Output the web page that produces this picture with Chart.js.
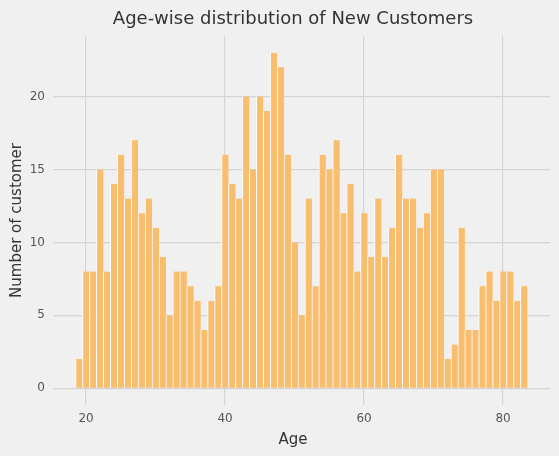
<!DOCTYPE html>
<html>
<head>
<meta charset="utf-8">
<script src="https://cdn.jsdelivr.net/npm/chart.js@4.4.1/dist/chart.umd.min.js"></script>
<style>
  html, body { margin: 0; padding: 0; background: #f0f0f0; }
  #wrap { width: 559px; height: 456px; }
</style>
</head>
<body>
<div id="wrap"><canvas id="ageChart"></canvas></div>
<script>
//DATA:
const chartTitle = 'Age-wise distribution of New Customers';
const xLabel = 'Age';
const yLabel = 'Number of customer';
const ages = [19, 20, 21, 22, 23, 24, 25, 26, 27, 28, 29, 30, 31, 32, 33, 34, 35, 36, 37, 38, 39,
  40, 41, 42, 43, 44, 45, 46, 47, 48, 49, 50, 51, 52, 53, 54, 55, 56, 57, 58, 59,
  60, 61, 62, 63, 64, 65, 66, 67, 68, 69, 70, 71, 72, 73, 74, 75, 76, 77, 78, 79,
  80, 81, 82, 83];
const customerCounts = [2, 8, 8, 15, 8, 14, 16, 13, 17, 12, 13, 11, 9, 5, 8, 8, 7, 6, 4, 6, 7,
  16, 14, 13, 20, 15, 20, 19, 23, 22, 16, 10, 5, 13, 7, 16, 15, 17, 12, 14, 8,
  12, 9, 13, 9, 11, 16, 13, 13, 11, 12, 15, 15, 2, 3, 11, 4, 4, 7, 8, 6,
  8, 8, 6, 7];
const xTicks = [20, 40, 60, 80];
const yTicks = [0, 5, 10, 15, 20];

//COLOURS AND FONTS:
const backgroundColour = '#f0f0f0';
const barColour = '#f9bd6e';
const gridColour = '#d4d4d4';
const fontFamily = '"DejaVu Sans", sans-serif';

//PLUGINS:
const paintBackground = {
  id: 'paintBackground',
  beforeDraw(chart) {
    const ctx = chart.ctx;
    ctx.save();
    ctx.fillStyle = backgroundColour;
    ctx.fillRect(0, 0, chart.width, chart.height);
    ctx.restore();
  }
};

// title and x label sit a little left of the plot centre in the original
const centredLabels = {
  id: 'centredLabels',
  afterDraw(chart) {
    const ctx = chart.ctx;
    const centreX = (chart.chartArea.left + chart.chartArea.right) / 2 - 8.5;
    ctx.save();
    ctx.textAlign = 'center';
    ctx.textBaseline = 'alphabetic';
    ctx.fillStyle = '#333333';
    ctx.font = '18px ' + fontFamily;
    ctx.fillText(chartTitle, centreX, 24);
    ctx.font = '15px ' + fontFamily;
    ctx.fillText(xLabel, centreX, chart.chartArea.bottom + 39);
    ctx.restore();
  }
};

function fixedTicks(values) {
  return function(scale) {
    scale.ticks = values.map(value => ({ value: value }));
  };
}

//CHART:
const chartLayout = document.getElementById('ageChart');

const ageChart = new Chart(chartLayout, {
  type: 'bar',
  data: {
    datasets: [{
      label: yLabel,
      data: ages.map((age, i) => ({ x: age, y: customerCounts[i] })),
      backgroundColor: barColour,
      borderColor: '#ffffff',
      borderWidth: { left: 1, right: 0, top: 0, bottom: 0 },
      borderSkipped: false,
      categoryPercentage: 1,
      barPercentage: 1
    }]
  },
  options: {
    responsive: true,
    maintainAspectRatio: false,
    animation: false,
    layout: {
      padding: { top: 36, right: 9, left: 0, bottom: 0 }
    },
    plugins: {
      legend: { display: false },
      tooltip: { enabled: false },
      title: { display: false }
    },
    scales: {
      x: {
        type: 'linear',
        min: 15.25,
        max: 86.75,
        offset: false,
        afterBuildTicks: fixedTicks(xTicks),
        afterFit(scale) { scale.height = 51; },
        border: { display: false },
        grid: {
          offset: false,
          color: gridColour,
          lineWidth: 1.2,
          drawTicks: false
        },
        ticks: {
          padding: 7,
          color: '#555555',
          font: { family: fontFamily, size: 12 }
        }
      },
      y: {
        min: -1.15,
        max: 24.15,
        afterBuildTicks: fixedTicks(yTicks),
        afterFit(scale) { scale.width = 53; },
        border: { display: false },
        grid: {
          color: gridColour,
          lineWidth: 1.2,
          drawTicks: false
        },
        ticks: {
          padding: 8,
          color: '#555555',
          font: { family: fontFamily, size: 12 }
        },
        title: {
          display: true,
          text: yLabel,
          color: '#333333',
          padding: { top: 8, bottom: 0 },
          font: { family: fontFamily, size: 15 }
        }
      }
    }
  },
  plugins: [paintBackground, centredLabels]
});
</script>
</body>
</html>
